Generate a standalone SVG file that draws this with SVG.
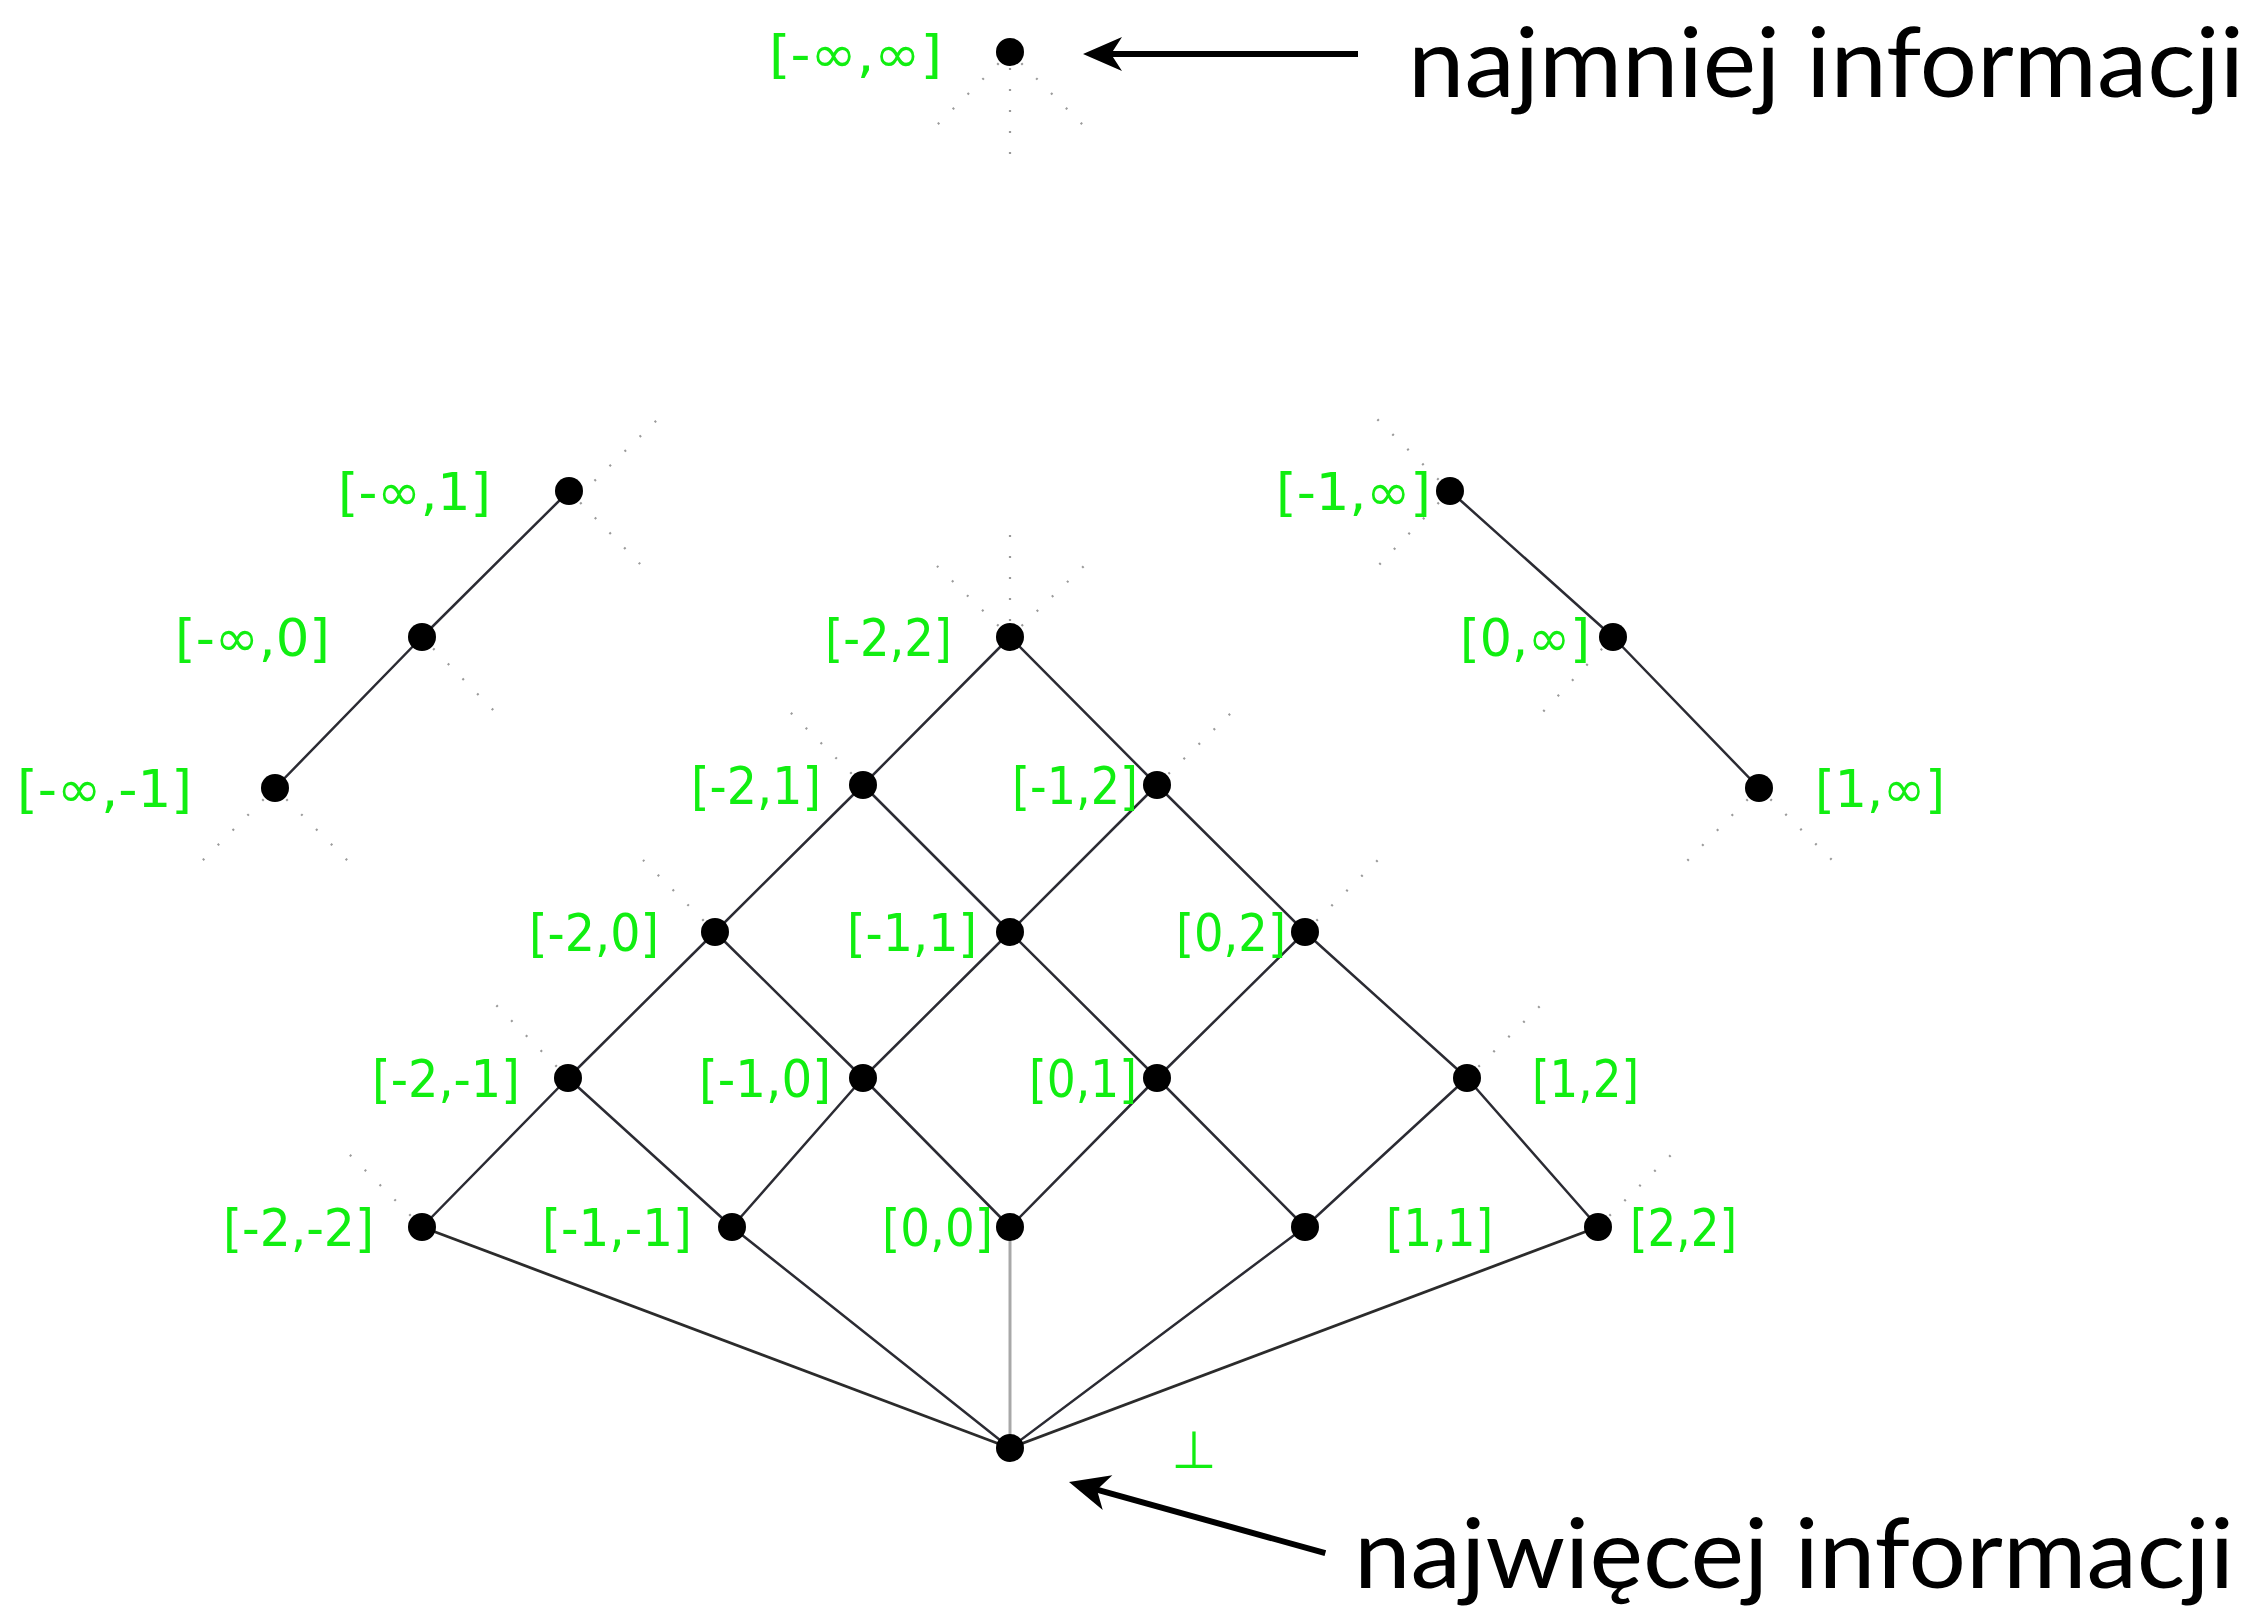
<svg xmlns="http://www.w3.org/2000/svg" width="2266" height="1619" viewBox="0 0 2266 1619">
  <style>
    .edge { stroke: #2b2b33; stroke-width: 2.5; fill: none; stroke-linecap: round; }
    .edge-b { stroke: #2b2b2b; stroke-width: 2.8; fill: none; }
    .edge-g { stroke: #a8a8a8; stroke-width: 3; fill: none; }
    .dots { stroke: #9a9a9a; stroke-width: 2.2; fill: none; stroke-dasharray: 2 19; stroke-dashoffset: -16; }
    .node circle { fill: #000; }
    .lbl { font-family: "DejaVu Sans", Verdana, sans-serif; font-size: 52px; fill: #11ee11; }
    .note { font-family: Lato, "Open Sans", sans-serif; font-size: 96px; fill: #000; }
    .arrow-line { stroke: #000; stroke-width: 6; fill: none; }
    .arrow-head { fill: #000; }
  </style>

  <rect width="2266" height="1619" fill="#fff"/>

  <!-- dotted continuation hints -->
  <g id="hints">
    <line class="dots" x1="1010" y1="52" x2="936" y2="126"/>
    <line class="dots" x1="1010" y1="52" x2="1010" y2="162"/>
    <line class="dots" x1="1010" y1="52" x2="1084" y2="126"/>

    <line class="dots" x1="583" y1="492" x2="658" y2="419"/>
    <line class="dots" x1="569" y1="491" x2="643" y2="567"/>
    <line class="dots" x1="422" y1="637" x2="498" y2="715"/>
    <line class="dots" x1="275" y1="788" x2="200" y2="863"/>
    <line class="dots" x1="275" y1="788" x2="350" y2="863"/>

    <line class="dots" x1="1450" y1="491" x2="1377" y2="419"/>
    <line class="dots" x1="1450" y1="491" x2="1377" y2="567"/>
    <line class="dots" x1="1613" y1="637" x2="1540" y2="715"/>
    <line class="dots" x1="1759" y1="788" x2="1686" y2="862"/>
    <line class="dots" x1="1759" y1="788" x2="1834" y2="862"/>

    <line class="dots" x1="1010" y1="637" x2="937" y2="566"/>
    <line class="dots" x1="1010" y1="637" x2="1010" y2="530"/>
    <line class="dots" x1="1010" y1="637" x2="1084" y2="566"/>
    <line class="dots" x1="863" y1="785" x2="790" y2="712"/>
    <line class="dots" x1="1157" y1="785" x2="1232" y2="712"/>
    <line class="dots" x1="715" y1="932" x2="643" y2="860"/>
    <line class="dots" x1="1305" y1="932" x2="1378" y2="860"/>
    <line class="dots" x1="568" y1="1078" x2="496" y2="1005"/>
    <line class="dots" x1="1467" y1="1078" x2="1541" y2="1005"/>
    <line class="dots" x1="422" y1="1227" x2="348" y2="1153"/>
    <line class="dots" x1="1598" y1="1227" x2="1673" y2="1153"/>
  </g>

  <!-- order relation edges -->
  <g id="connectors">
    <line class="edge" x1="569" y1="491" x2="422" y2="637"/>
    <line class="edge" x1="422" y1="637" x2="275" y2="788"/>
    <line class="edge" x1="1450" y1="491" x2="1613" y2="637"/>
    <line class="edge" x1="1613" y1="637" x2="1759" y2="788"/>

    <line class="edge" x1="1010" y1="637" x2="863" y2="785"/>
    <line class="edge" x1="1010" y1="637" x2="1157" y2="785"/>
    <line class="edge" x1="863" y1="785" x2="715" y2="932"/>
    <line class="edge" x1="863" y1="785" x2="1010" y2="932"/>
    <line class="edge" x1="1157" y1="785" x2="1010" y2="932"/>
    <line class="edge" x1="1157" y1="785" x2="1305" y2="932"/>
    <line class="edge" x1="715" y1="932" x2="568" y2="1078"/>
    <line class="edge" x1="715" y1="932" x2="863" y2="1078"/>
    <line class="edge" x1="1010" y1="932" x2="863" y2="1078"/>
    <line class="edge" x1="1010" y1="932" x2="1157" y2="1078"/>
    <line class="edge" x1="1305" y1="932" x2="1157" y2="1078"/>
    <line class="edge" x1="1305" y1="932" x2="1467" y2="1078"/>
    <line class="edge" x1="568" y1="1078" x2="422" y2="1227"/>
    <line class="edge" x1="568" y1="1078" x2="732" y2="1227"/>
    <line class="edge" x1="863" y1="1078" x2="732" y2="1227"/>
    <line class="edge" x1="863" y1="1078" x2="1010" y2="1227"/>
    <line class="edge" x1="1157" y1="1078" x2="1010" y2="1227"/>
    <line class="edge" x1="1157" y1="1078" x2="1305" y2="1227"/>
    <line class="edge" x1="1467" y1="1078" x2="1305" y2="1227"/>
    <line class="edge" x1="1467" y1="1078" x2="1598" y2="1227"/>

    <line class="edge-b" x1="422" y1="1227" x2="1010" y2="1448"/>
    <line class="edge" x1="732" y1="1227" x2="1010" y2="1448"/>
    <line class="edge-g" x1="1010" y1="1227" x2="1010" y2="1448"/>
    <line class="edge" x1="1305" y1="1227" x2="1010" y2="1448"/>
    <line class="edge-b" x1="1598" y1="1227" x2="1010" y2="1448"/>
  </g>

  <!-- lattice elements -->
  <g id="n-top" class="node"><circle cx="1010" cy="52" r="14"/><text class="lbl" x="769" y="72" textLength="173" lengthAdjust="spacingAndGlyphs">[-∞,∞]</text></g>

  <g id="n-minf-1" class="node"><circle cx="569" cy="491" r="14"/><text class="lbl" x="338" y="510" textLength="153" lengthAdjust="spacingAndGlyphs">[-∞,1]</text></g>
  <g id="n-minf-0" class="node"><circle cx="422" cy="637" r="14"/><text class="lbl" x="175" y="656" textLength="155" lengthAdjust="spacingAndGlyphs">[-∞,0]</text></g>
  <g id="n-minf-m1" class="node"><circle cx="275" cy="788" r="14"/><text class="lbl" x="17" y="807" textLength="175" lengthAdjust="spacingAndGlyphs">[-∞,-1]</text></g>

  <g id="n-m1-inf" class="node"><circle cx="1450" cy="491" r="14"/><text class="lbl" x="1276" y="510" textLength="155" lengthAdjust="spacingAndGlyphs">[-1,∞]</text></g>
  <g id="n-0-inf" class="node"><circle cx="1613" cy="637" r="14"/><text class="lbl" x="1460" y="656" textLength="130" lengthAdjust="spacingAndGlyphs">[0,∞]</text></g>
  <g id="n-1-inf" class="node"><circle cx="1759" cy="788" r="14"/><text class="lbl" x="1815" y="807" textLength="130" lengthAdjust="spacingAndGlyphs">[1,∞]</text></g>

  <g id="n-m2-2" class="node"><circle cx="1010" cy="637" r="14"/><text class="lbl" x="825" y="656" textLength="127" lengthAdjust="spacingAndGlyphs">[-2,2]</text></g>
  <g id="n-m2-1" class="node"><circle cx="863" cy="785" r="14"/><text class="lbl" x="691" y="804" textLength="130" lengthAdjust="spacingAndGlyphs">[-2,1]</text></g>
  <g id="n-m1-2" class="node"><circle cx="1157" cy="785" r="14"/><text class="lbl" x="1012" y="804" textLength="126" lengthAdjust="spacingAndGlyphs">[-1,2]</text></g>
  <g id="n-m2-0" class="node"><circle cx="715" cy="932" r="14"/><text class="lbl" x="529" y="951" textLength="130" lengthAdjust="spacingAndGlyphs">[-2,0]</text></g>
  <g id="n-m1-1" class="node"><circle cx="1010" cy="932" r="14"/><text class="lbl" x="847" y="951" textLength="130" lengthAdjust="spacingAndGlyphs">[-1,1]</text></g>
  <g id="n-0-2" class="node"><circle cx="1305" cy="932" r="14"/><text class="lbl" x="1176" y="951" textLength="110" lengthAdjust="spacingAndGlyphs">[0,2]</text></g>
  <g id="n-m2-m1" class="node"><circle cx="568" cy="1078" r="14"/><text class="lbl" x="372" y="1097" textLength="148" lengthAdjust="spacingAndGlyphs">[-2,-1]</text></g>
  <g id="n-m1-0" class="node"><circle cx="863" cy="1078" r="14"/><text class="lbl" x="699" y="1097" textLength="132" lengthAdjust="spacingAndGlyphs">[-1,0]</text></g>
  <g id="n-0-1" class="node"><circle cx="1157" cy="1078" r="14"/><text class="lbl" x="1029" y="1097" textLength="108" lengthAdjust="spacingAndGlyphs">[0,1]</text></g>
  <g id="n-1-2" class="node"><circle cx="1467" cy="1078" r="14"/><text class="lbl" x="1532" y="1097" textLength="107" lengthAdjust="spacingAndGlyphs">[1,2]</text></g>
  <g id="n-m2-m2" class="node"><circle cx="422" cy="1227" r="14"/><text class="lbl" x="223" y="1246" textLength="151" lengthAdjust="spacingAndGlyphs">[-2,-2]</text></g>
  <g id="n-m1-m1" class="node"><circle cx="732" cy="1227" r="14"/><text class="lbl" x="542" y="1246" textLength="150" lengthAdjust="spacingAndGlyphs">[-1,-1]</text></g>
  <g id="n-0-0" class="node"><circle cx="1010" cy="1227" r="14"/><text class="lbl" x="882" y="1246" textLength="111" lengthAdjust="spacingAndGlyphs">[0,0]</text></g>
  <g id="n-1-1" class="node"><circle cx="1305" cy="1227" r="14"/><text class="lbl" x="1386" y="1246" textLength="107" lengthAdjust="spacingAndGlyphs">[1,1]</text></g>
  <g id="n-2-2" class="node"><circle cx="1598" cy="1227" r="14"/><text class="lbl" x="1630" y="1246" textLength="107" lengthAdjust="spacingAndGlyphs">[2,2]</text></g>

  <g id="n-bottom" class="node"><circle cx="1010" cy="1448" r="14"/><text class="lbl" x="1194" y="1468" text-anchor="middle">⊥</text></g>

  <!-- annotations -->
  <g id="note-top">
    <line class="arrow-line" x1="1358" y1="54" x2="1108" y2="54"/>
    <polygon class="arrow-head" points="1083,54 1122,37 1111,54 1122,71"/>
    <text class="note" x="1408" y="97" textLength="836" lengthAdjust="spacingAndGlyphs">najmniej informacji</text>
  </g>
  <g id="note-bottom">
    <g transform="translate(1069,1482) rotate(15.5)">
      <line class="arrow-line" x1="26" y1="0" x2="266" y2="0"/>
      <polygon class="arrow-head" points="0,0 40,-18 29,0 40,18"/>
    </g>
    <text class="note" x="1354" y="1588" textLength="880" lengthAdjust="spacingAndGlyphs">najwięcej informacji</text>
  </g>
</svg>
